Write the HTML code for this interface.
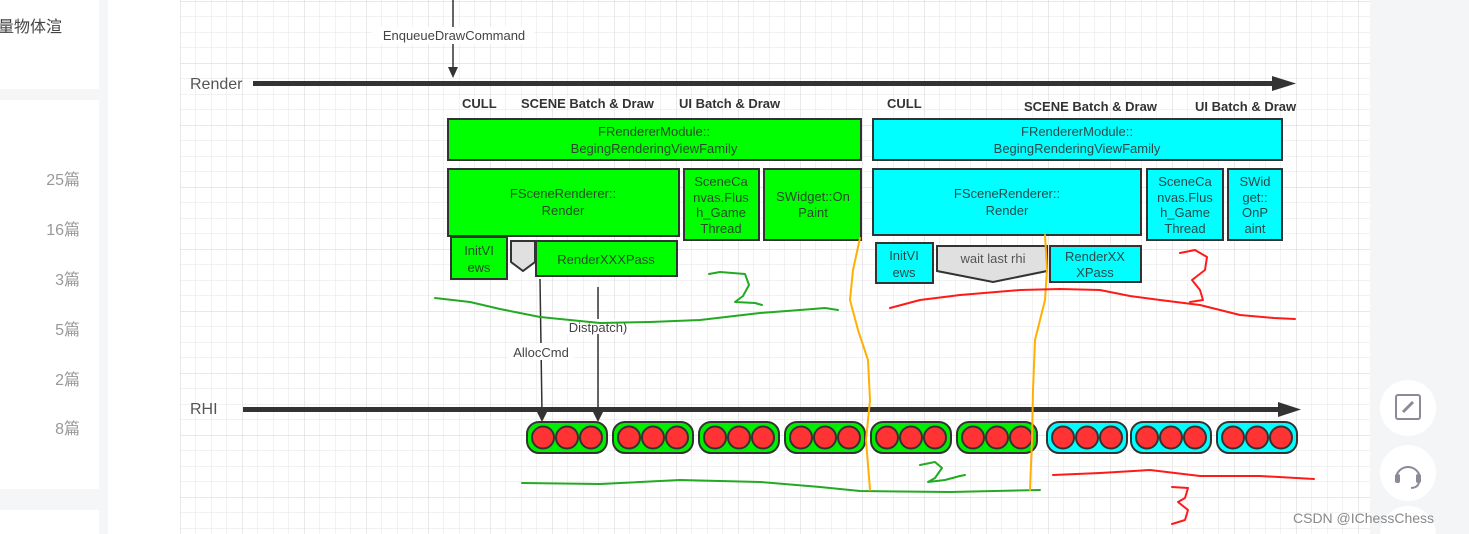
<!DOCTYPE html>
<html style="margin:0;width:1469px;height:534px;overflow:hidden"><head><meta charset="utf-8"><style>
body{margin:0;width:1469px;height:534px;overflow:hidden;background:#fff;font-family:"Liberation Sans","Noto Sans CJK SC",sans-serif;position:relative}
svg{display:block}
</style></head><body>
<svg width="1469" height="534" style="position:absolute;left:0;top:0" font-family="Liberation Sans, Noto Sans CJK SC, sans-serif">
<defs>
<pattern id="g" x="180" y="1" width="15.5" height="15.5" patternUnits="userSpaceOnUse"><path d="M0 0V15.5M0 0H15.5" stroke="#e6e6e6" stroke-width="1" fill="none"/></pattern>
<pattern id="G" x="180" y="1" width="62" height="62" patternUnits="userSpaceOnUse"><path d="M0 0V62M0 0H62" stroke="#dadada" stroke-width="1.2" fill="none"/></pattern>
</defs>
<rect x="0" y="0" width="108" height="534" fill="#f5f6f7"/>
<rect x="0" y="0" width="99" height="89" fill="#fff"/>
<rect x="0" y="100" width="99" height="389" fill="#fff"/>
<rect x="0" y="510" width="99" height="24" fill="#fff"/>
<text x="-2" y="32" font-size="16" fill="#444">量物体渲</text>
<g font-size="16" fill="#999" text-anchor="end">
<text x="80" y="185">25篇</text><text x="80" y="235">16篇</text><text x="80" y="285">3篇</text><text x="80" y="335">5篇</text><text x="80" y="385">2篇</text><text x="80" y="434">8篇</text></g>
<rect x="180" y="0" width="1190" height="534" fill="url(#g)"/>
<rect x="180" y="0" width="1190" height="534" fill="url(#G)"/>
<rect x="1370" y="0" width="99" height="534" fill="#f4f5f7"/>
<circle cx="1408" cy="408" r="28" fill="#fff"/><circle cx="1408" cy="473" r="28" fill="#fff"/>
<path d="M1380 534a28 28 0 0 1 56 0Z" fill="#fff"/>
<rect x="1396" y="395" width="24" height="24" rx="2" fill="none" stroke="#8a8a99" stroke-width="2"/>
<path d="M1403 412L1413 402" stroke="#8a8a99" stroke-width="3"/>
<path d="M1396 479a12 12 0 0 1 24 0" fill="none" stroke="#8a8a99" stroke-width="2"/>
<rect x="1395" y="474" width="5" height="9" rx="2" fill="#8a8a99"/><rect x="1416" y="474" width="5" height="9" rx="2" fill="#8a8a99"/>
<path d="M1419 483q-2 5-8 5" fill="none" stroke="#8a8a99" stroke-width="2"/>

<line x1="453" y1="0" x2="453" y2="68" stroke="#333" stroke-width="1.5"/>
<path d="M448 67L458 67L453 78Z" fill="#333"/>
<rect x="372" y="27" width="162" height="17" fill="#fff"/>
<text x="454" y="40" font-size="13" fill="#444" text-anchor="middle">EnqueueDrawCommand</text>
<text x="190" y="89" font-size="16" fill="#555">Render</text>
<rect x="253" y="81" width="1030" height="5" fill="#333"/>
<path d="M1272 76L1296 83.5L1272 91Z" fill="#333"/>
<text x="190" y="414" font-size="16" fill="#555">RHI</text>
<rect x="243" y="407" width="1045" height="5" fill="#333"/>
<path d="M1278 402L1301 409.5L1278 417Z" fill="#333"/>

<g font-size="13" font-weight="bold" fill="#333">
<text x="462" y="108">CULL</text><text x="521" y="108">SCENE Batch &amp; Draw</text><text x="679" y="108">UI Batch &amp; Draw</text>
<text x="887" y="108">CULL</text><text x="1024" y="111">SCENE Batch &amp; Draw</text><text x="1195" y="111">UI Batch &amp; Draw</text></g>

<g stroke="#333" stroke-width="2" font-size="13" fill="#333" text-anchor="middle">
<rect x="448" y="119" width="413" height="41" fill="#00ff00"/>
<rect x="448" y="169" width="231" height="67" fill="#00ff00"/>
<rect x="684" y="169" width="75" height="71" fill="#00ff00"/>
<rect x="764" y="169" width="97" height="71" fill="#00ff00"/>
<rect x="451" y="237" width="56" height="42" fill="#00ff00"/>
<path d="M511 241H535V262L523 271L511 262Z" fill="#e0e0e0"/>
<rect x="536" y="241" width="141" height="35" fill="#00ff00"/>
<rect x="873" y="119" width="409" height="41" fill="#00ffff"/>
<rect x="873" y="169" width="268" height="66" fill="#00ffff"/>
<rect x="1147" y="169" width="76" height="71" fill="#00ffff"/>
<rect x="1228" y="169" width="54" height="71" fill="#00ffff"/>
<rect x="876" y="243" width="57" height="40" fill="#00ffff"/>
<path d="M937 246H1047V271L993 282L937 271Z" fill="#e0e0e0"/>
<rect x="1050" y="246" width="91" height="36" fill="#00ffff"/>
</g>
<g font-size="13" fill="#2a4a2a" text-anchor="middle">
<text x="654" y="136">FRendererModule::</text><text x="654" y="153">BegingRenderingViewFamily</text>
<text x="563" y="198">FSceneRenderer::</text><text x="563" y="215">Render</text>
<text x="721" y="186">SceneCa</text><text x="721" y="202">nvas.Flus</text><text x="721" y="217">h_Game</text><text x="721" y="233">Thread</text>
<text x="813" y="201">SWidget::On</text><text x="813" y="217">Paint</text>
<text x="479" y="255">InitVI</text><text x="479" y="272">ews</text>
<text x="606" y="264">RenderXXXPass</text>
</g>
<g font-size="13" fill="#2a4a4a" text-anchor="middle">
<text x="1077" y="136">FRendererModule::</text><text x="1077" y="153">BegingRenderingViewFamily</text>
<text x="1007" y="198">FSceneRenderer::</text><text x="1007" y="215">Render</text>
<text x="1185" y="186">SceneCa</text><text x="1185" y="202">nvas.Flus</text><text x="1185" y="217">h_Game</text><text x="1185" y="233">Thread</text>
<text x="1255" y="186">SWid</text><text x="1255" y="202">get::</text><text x="1255" y="217">OnP</text><text x="1255" y="233">aint</text>
<text x="904" y="260">InitVI</text><text x="904" y="277">ews</text>
<text x="993" y="263" fill="#555">wait last rhi</text>
<text x="1095" y="261">RenderXX</text><text x="1095" y="277">XPass</text>
</g>
<g stroke="#333" stroke-width="1.5">
<line x1="540" y1="279" x2="542" y2="413"/><line x1="598" y1="287" x2="598" y2="413"/></g>
<path d="M537 412L547 412L542 422Z M593 412L603 412L598 422Z" fill="#333"/>
<rect x="508" y="343" width="66" height="17" fill="#fff"/>
<text x="541" y="357" font-size="13" fill="#444" text-anchor="middle">AllocCmd</text>
<rect x="562" y="319" width="72" height="15" fill="#fff"/>
<text x="598" y="332" font-size="13" fill="#444" text-anchor="middle">Distpatch)</text>
<g stroke="#333" stroke-width="2">
<g fill="#00ee00">
<rect x="527" y="422" width="80" height="31" rx="12"/><rect x="613" y="422" width="80" height="31" rx="12"/><rect x="699" y="422" width="80" height="31" rx="12"/><rect x="785" y="422" width="80" height="31" rx="12"/><rect x="871" y="422" width="80" height="31" rx="12"/><rect x="957" y="422" width="80" height="31" rx="12"/></g>
<g fill="#00ffff">
<rect x="1047" y="422" width="80" height="31" rx="12"/><rect x="1131" y="422" width="80" height="31" rx="12"/><rect x="1217" y="422" width="80" height="31" rx="12"/></g>
<g fill="#ff3333">
<circle cx="543" cy="437.5" r="11"/><circle cx="567" cy="437.5" r="11"/><circle cx="591" cy="437.5" r="11"/>
<circle cx="629" cy="437.5" r="11"/><circle cx="653" cy="437.5" r="11"/><circle cx="677" cy="437.5" r="11"/>
<circle cx="715" cy="437.5" r="11"/><circle cx="739" cy="437.5" r="11"/><circle cx="763" cy="437.5" r="11"/>
<circle cx="801" cy="437.5" r="11"/><circle cx="825" cy="437.5" r="11"/><circle cx="849" cy="437.5" r="11"/>
<circle cx="887" cy="437.5" r="11"/><circle cx="911" cy="437.5" r="11"/><circle cx="935" cy="437.5" r="11"/>
<circle cx="973" cy="437.5" r="11"/><circle cx="997" cy="437.5" r="11"/><circle cx="1021" cy="437.5" r="11"/>
<circle cx="1063" cy="437.5" r="11"/><circle cx="1087" cy="437.5" r="11"/><circle cx="1111" cy="437.5" r="11"/>
<circle cx="1147" cy="437.5" r="11"/><circle cx="1171" cy="437.5" r="11"/><circle cx="1195" cy="437.5" r="11"/>
<circle cx="1233" cy="437.5" r="11"/><circle cx="1257" cy="437.5" r="11"/><circle cx="1281" cy="437.5" r="11"/></g>
</g>
<g fill="none" stroke-width="2" stroke-linejoin="round" stroke-linecap="round">
<polyline stroke="#22aa22" points="435,298 470,302 500,309 540,317 600,323 650,322 700,320 760,313 800,310 825,308 838,310"/>
<polyline stroke="#22aa22" points="709,274 720,272 745,274 749,285 743,296 735,302 755,303 762,305"/>
<polyline stroke="#22aa22" points="522,483 600,484 680,480 760,482 820,487 860,491 950,492 1040,490"/>
<polyline stroke="#22aa22" points="920,465 935,462 942,468 935,478 928,482 945,480 960,476 965,475"/>
<polyline stroke="#ffb000" points="860,238 853,270 850,300 858,330 868,360 870,400 866,440 870,490"/>
<polyline stroke="#ffb000" points="1045,235 1047,270 1045,300 1035,340 1033,390 1032,440 1030,490"/>
<polyline stroke="#ff1a1a" points="890,308 920,300 960,295 1020,290 1060,289 1100,290 1130,296 1160,300 1200,305 1240,315 1274,318 1295,319"/>
<polyline stroke="#ff1a1a" points="1180,253 1195,250 1207,257 1205,270 1192,280 1200,290 1203,300 1190,302"/>
<polyline stroke="#ff1a1a" points="1053,475 1100,473 1150,470 1200,476 1260,476 1314,479"/>
<polyline stroke="#ff1a1a" points="1172,487 1188,488 1185,498 1178,502 1188,510 1185,520 1172,524"/>
</g>
<text x="1293" y="523" font-size="14" fill="#888">CSDN @IChessChess</text>
</svg>
</body></html>
